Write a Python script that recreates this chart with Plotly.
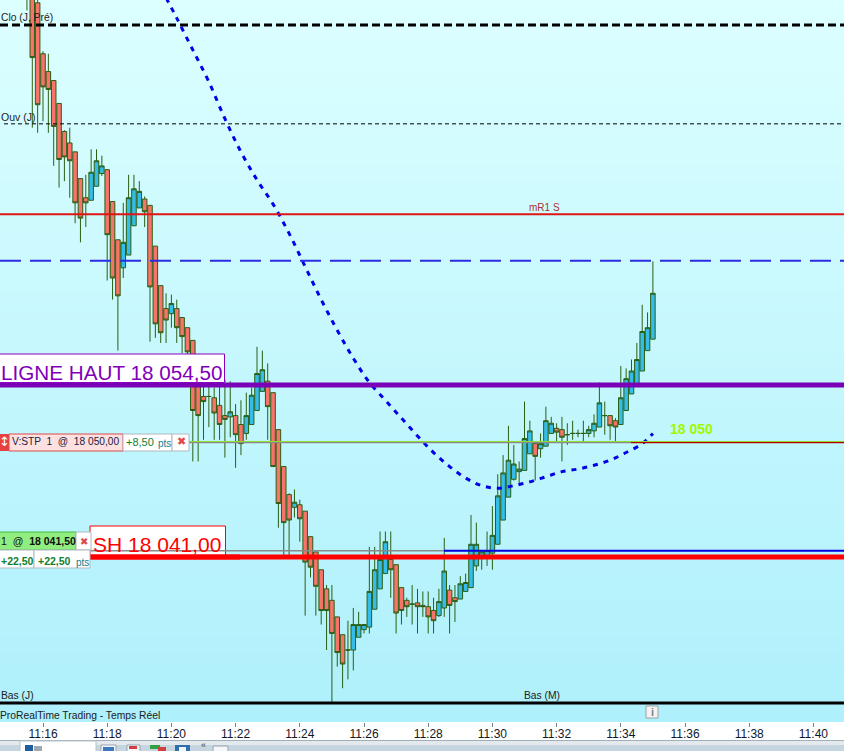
import pandas as pd
import plotly.graph_objects as go

W, H = 844, 751
PLOT_BOTTOM = 722

# ---- chart data (prices are offsets from PRICE_BASE) ----
PRICE_BASE = 18000
FIRST_BAR = "2024-01-15 11:15:30"
open_ = [87.0,86.3,84.5,80.5,79.1,78.4,76.6,74.4,73.5,72.8,70.7,69.2,69.0,70.1,71.1,71.4,68.9,65.9,63.7,64.7,
         67.0,68.4,69.1,68.6,65.4,62.3,60.5,60.1,60.5,59.8,59.0,58.0,54.6,53.6,53.6,53.5,52.9,52.1,52.0,52.1,
         51.4,50.7,51.4,52.5,54.0,54.8,53.9,51.0,48.1,45.9,44.9,45.1,44.6,42.6,41.4,40.0,38.5,37.6,36.3,34.9,
         33.7,33.7,34.7,35.3,35.5,36.9,38.5,39.7,40.8,40.4,38.6,37.6,37.3,37.4,37.2,37.1,36.8,36.4,37.0,38.4,
         37.8,37.7,38.3,38.6,40.3,41.1,41.1,41.3,42.0,43.9,45.7,47.1,47.7,47.8,49.1,49.9,49.5,49.7,50.7,51.1,
         51.0,50.6,50.7,50.7,50.7,50.7,50.9,51.2,52.1,52.1,51.7,51.4,52.5,53.8,54.5,55.6,57.2,58.1]
high = [88.0,87.1,85.0,80.7,80.5,78.4,76.6,74.5,74.7,72.8,70.7,71.0,73.0,73.0,72.5,71.4,68.9,65.9,68.8,71.0,
        71.0,70.5,69.3,68.6,65.4,62.3,61.7,61.6,61.2,59.8,59.0,58.0,54.6,54.5,54.5,54.3,54.6,54.9,54.8,53.0,
        53.3,53.9,54.3,57.5,57.2,56.2,53.9,51.0,48.1,46.0,46.3,45.5,44.6,42.6,41.4,40.0,38.8,38.8,36.3,34.9,
        36.0,37.0,36.7,35.7,41.8,41.8,43.0,43.0,43.0,40.4,38.6,37.8,38.8,38.5,38.3,38.3,37.8,38.5,42.5,38.8,
        38.8,39.5,39.7,44.3,43.7,41.5,43.0,45.0,47.5,49.0,51.3,49.8,48.5,53.2,51.7,49.9,50.7,52.8,52.0,51.5,
        52.0,51.5,51.7,51.0,51.7,51.3,52.2,54.7,53.2,52.1,51.9,56.0,55.8,56.5,57.8,60.8,60.2,64.2]
low = [83.9,74.7,74.3,75.2,74.3,71.7,70.0,70.5,69.2,67.2,65.7,66.9,69.0,70.1,70.9,62.7,61.2,57.2,62.9,64.7,
       67.0,68.4,66.9,57.9,58.2,57.8,57.8,59.0,57.8,57.0,56.6,48.5,48.5,50.2,51.2,50.2,50.2,48.8,50.4,48.0,
       49.0,50.2,51.4,52.5,54.0,50.2,48.1,43.3,41.0,41.0,44.1,42.2,36.4,39.4,36.4,35.7,33.7,29.6,32.4,30.7,
       31.4,32.1,34.7,35.0,35.0,36.9,38.5,39.7,37.8,35.0,35.7,36.3,35.7,35.0,36.3,35.0,35.0,36.3,36.3,35.0,
       35.9,37.7,38.3,38.6,39.9,40.0,40.3,40.0,42.0,43.9,45.7,47.0,46.7,47.8,49.1,47.0,48.8,49.7,50.7,50.1,
       48.5,49.8,50.2,50.4,50.1,50.4,50.4,51.2,50.6,50.2,50.1,51.4,52.5,53.8,54.5,55.6,57.2,58.1]
close = [85.0,80.2,76.5,77.9,77.7,74.8,72.2,72.4,72.1,68.8,67.6,68.8,71.2,72.1,71.7,66.3,62.9,61.5,65.7,69.2,
         69.9,69.7,68.1,62.2,59.3,58.6,59.6,60.9,59.0,58.3,57.1,52.5,52.1,53.2,53.6,52.3,51.4,51.8,52.4,50.6,
         49.9,52.1,53.7,55.4,55.7,52.8,48.1,45.2,43.7,43.9,45.3,44.0,40.6,40.2,38.7,36.8,36.8,35.0,33.5,32.6,
         33.7,35.7,35.7,35.7,38.3,40.0,40.8,42.2,40.0,36.6,36.8,37.1,37.3,37.1,37.1,36.3,36.0,37.5,39.9,37.2,
         37.5,38.9,39.0,42.0,42.0,41.4,41.5,42.7,45.8,47.6,48.6,48.3,47.9,50.3,50.9,48.9,49.9,51.7,51.5,50.8,
         50.4,50.6,50.7,50.7,50.7,51.0,51.5,53.1,52.1,51.3,51.2,53.5,55.0,55.6,56.5,58.7,59.0,61.7]

# slow moving average: bar index, price offset
ma_bar = [25,27,30,33,36,39,42,45,48,51,54,57,60,63,66,69,72,75,78,81,84,87,90,93,96,99,102,105,108,111,114,116]
ma_val = [84.9,83.3,80.8,78.3,75.4,72.8,70.6,68.7,66.4,63.8,61.2,58.8,56.6,54.7,53.3,51.9,50.5,49.2,48.1,47.2,
          46.6,46.4,46.6,46.9,47.3,47.7,47.9,48.2,48.6,49.2,49.9,50.7]

level_prev_close = 18082.75
level_day_open = 18075.0
level_mr1 = 18067.9
level_dash_blue = 18064.25
level_high_line = 18054.5
level_stop = 18050.0
level_entry = 18041.5
level_sh = 18041.0
level_bottom = 18029.55

tick_labels = ["11:16","11:18","11:20","11:22","11:24","11:26","11:28","11:30","11:32","11:34","11:36","11:38","11:40"]
date_part = FIRST_BAR.split()[0]
tick_vals = [f"{date_part} {t}:00" for t in tick_labels]
price_grid = [18030, 18035, 18040, 18045, 18050, 18055, 18060, 18065, 18070, 18075, 18080]

# ---- layout constants ----
FONT = "Liberation Sans"
UP_FILL = "#35bdea"
DOWN_FILL = "#f8736a"
EDGE = "#2b5f12"
GRID = "rgba(150,205,220,0.55)"

times = pd.date_range(FIRST_BAR, periods=len(open_), freq="10s")
sec_per_px = 1 / 0.535
x0 = pd.Timestamp(f"{date_part} 11:16:00") - pd.Timedelta(seconds=43 * sec_per_px)
x1 = pd.Timestamp(f"{date_part} 11:16:00") + pd.Timedelta(seconds=(W - 43) * sec_per_px)
y_top = 18084.72
y_bot = 18028.05

fig = go.Figure()

fig.add_trace(go.Heatmap(
    x=[x0, x1], y=[y_bot, y_top], z=[[1, 1], [0, 0]], zsmooth="best", showscale=False, hoverinfo="skip",
    colorscale=[[0, "#dcffff"], [1, "#aef0fc"]], zmin=0, zmax=1))

fig.add_trace(go.Candlestick(
    x=times,
    open=[PRICE_BASE + v for v in open_], high=[PRICE_BASE + v for v in high],
    low=[PRICE_BASE + v for v in low], close=[PRICE_BASE + v for v in close],
    increasing=dict(fillcolor=UP_FILL, line=dict(color=EDGE, width=1)),
    decreasing=dict(fillcolor=DOWN_FILL, line=dict(color=EDGE, width=1)),
    whiskerwidth=0, showlegend=False))

fig.add_trace(go.Scatter(
    x=[times[b + 1] for b in ma_bar], y=[PRICE_BASE + v for v in ma_val],
    mode="lines", line=dict(color="#0000e6", width=3, dash="5px,6px", shape="spline"),
    showlegend=False, hoverinfo="skip"))

shapes = []
annotations = []


def py(v):
    return (PLOT_BOTTOM - v) / PLOT_BOTTOM


def level(price, color, width, dash="solid", start=0, end=W):
    shapes.append(dict(type="line", xref="paper", yref="y", x0=start / W, x1=end / W, y0=price, y1=price,
                       line=dict(color=color, width=width, dash=dash), layer="above"))


def box(l, t, r, b, fill, edge=None, width=1):
    shapes.append(dict(type="rect", xref="paper", yref="paper", x0=l / W, x1=r / W, y0=py(b), y1=py(t),
                       fillcolor=fill, line=dict(color=edge or fill, width=width if edge else 0), layer="above"))


def text(x, y, s, size, color, anchor="left", font=FONT):
    annotations.append(dict(xref="paper", yref="paper", x=x / W, y=py(y), text=s, showarrow=False,
                            xanchor=anchor, yanchor="middle", borderpad=0,
                            font=dict(family=font, size=size, color=color)))


level(level_prev_close, "#000000", 3, "8px,4px")
level(level_day_open, "#000000", 1, "4px,3px", start=4)
level(level_mr1, "#e01414", 2)
level(level_dash_blue, "#2c2ce0", 2, "21px,9px")
level(level_high_line, "#7a00b8", 5)
level(level_stop, "#8a8a8a", 2, start=189, end=631)
level(level_stop, "#b00000", 2, start=631)
level(level_stop + 0.07, "#90e030", 1, start=189)
level(level_entry, "#8a8a8a", 1.5, start=90, end=444)
level(level_entry, "#0000e0", 2, start=444)
level(level_sh, "#ff0000", 5, start=90)
level(level_bottom, "#000000", 3)

# price labels
box(-2, 354, 224.5, 382.5, "#ffffff", "#8a00c0")
text(0, 372.5, "LIGNE HAUT 18 054,50", 20.7, "#8000b8")
box(90, 526, 225.5, 555, "#ffffff", "#ff0000")
text(92, 544, "SH 18 041,00", 21, "#ff0000")
level(level_entry, "#8a8a8a", 1.5, start=90, end=226)
level(level_sh, "#ff0000", 5, start=90, end=240)

# stop order ticket
box(0, 434, 9, 451, "#e84040")
text(4.5, 442, "↕", 13, "#ffffff", "center", "DejaVu Sans")
box(9, 434, 123, 451, "#fde0e0", "#e04848")
text(11, 442, "V:STP  1  @  18 050,00", 10.2, "#202040")
box(123, 434, 172, 451, "#ffffff", "#b0b8c0")
text(125, 442, "+8,50", 11, "#108030")
text(157, 443, "pts", 10, "#108090")
box(172, 434, 189, 451, "#ffffff", "#b0b8c0")
text(181, 442, "✖", 11, "#e04848", "center", "DejaVu Sans")

# position ticket
box(-2, 532, 76, 550, "#90ee80", "#40c040")
text(0, 541, "1  @  <b>18 041,50</b>", 10.5, "#101010")
box(76, 532, 91, 550, "#ffffff", "#b0b8c0")
text(84, 541, "✖", 10, "#e04848", "center", "DejaVu Sans")
box(-2, 550, 34, 568, "#ffffff", "#b0b8c0")
text(0, 561, "<b>+22,50</b>", 10.5, "#108030")
box(34, 550, 90, 568, "#ffffff", "#b0b8c0")
text(37, 561, "<b>+22,50</b>", 10.5, "#108030")
text(75, 562, "pts", 10, "#108090")

# chart texts
text(0, 18, "Clo (J, Pré)", 10.3, "#202020")
text(0, 117, "Ouv (J)", 10.5, "#202020")
text(528, 207, "mR1 S", 10, "#b03030")
text(669, 429, "<b>18 050</b>", 14, "#a0f800")
text(0, 695, "Bas (J)", 10.3, "#202020")
text(523, 695, "Bas (M)", 10.3, "#202020")
text(-1, 715, "ProRealTime Trading - Temps Réel", 10.3, "#202020")

# info marker
box(646, 706, 658, 718, "#f4f4f4", "#a0a0a0")
text(652, 712, "<b>i</b>", 11, "#808080", "center")

# window chrome below the axis
box(0, 740, W, 741, "#9fb0ba")
box(0, 741, W, 745, "#e4e9ed")
box(0, 745, W, 751, "#c5d6e0")
box(20, 741, 96, 752, "#ffffff", "#b8c4cc")
box(25, 745, 33, 752, "#1f5f9f")
box(34, 746, 42, 752, "#a0a8b0")
box(101, 745, 116, 752, "#f4f6f8", "#98a4b0")
box(103, 747, 114, 752, "#3a78c0")
box(127, 745, 140, 752, "#f4f6f8", "#98a4b0")
box(129, 746, 137, 749, "#d04040")
box(150, 745, 160, 749, "#30a040")
box(158, 747, 166, 752, "#d04040")
box(175, 745, 190, 752, "#2f6fb0")
box(179, 747, 186, 752, "#f0f4f8")
text(203, 744.5, "«", 9, "#404040", "center")
box(213, 746, 228, 752, "#f4f6f8", "#98a4b0")

fig.update_layout(
    width=W, height=H, autosize=False,
    margin=dict(l=0, r=0, t=0, b=H - PLOT_BOTTOM, pad=0),
    paper_bgcolor="#ffffff", plot_bgcolor="#dcffff",
    showlegend=False, boxgap=0.15, boxgroupgap=0, shapes=shapes, annotations=annotations,
    font=dict(family=FONT),
    xaxis=dict(type="date", range=[x0, x1], rangeslider=dict(visible=False), tickmode="array",
               tickvals=tick_vals, ticktext=tick_labels, ticks="outside", ticklen=4, tickcolor="#70808c",
               ticklabelstandoff=-3,
               tickfont=dict(family=FONT, size=12, color="#101828"), showgrid=True, gridcolor=GRID,
               griddash="dash", gridwidth=1, zeroline=False, showline=False),
    yaxis=dict(range=[y_bot, y_top], tickmode="array", tickvals=price_grid, showticklabels=False, ticks="",
               showgrid=True, gridcolor=GRID, griddash="dash", gridwidth=1, zeroline=False, showline=False),
)

fig.write_html("out.html", config=dict(displayModeBar=False),
               post_script="document.body.style.margin='0';document.body.style.overflow='hidden';")
